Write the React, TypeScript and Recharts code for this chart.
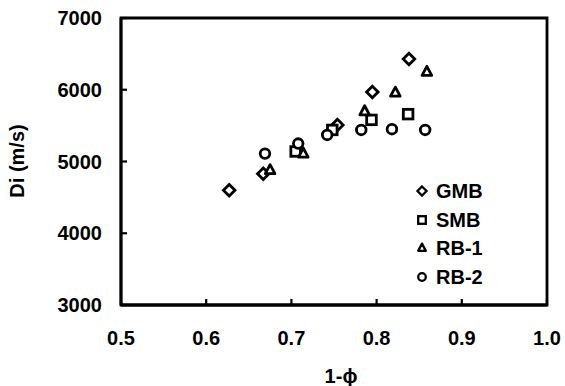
import React from "react";
import {
  ScatterChart,
  Scatter,
  XAxis,
  YAxis,
  ReferenceArea,
  Label,
} from "recharts";

type Pt = { x: number; y: number };

const gmb: Pt[] = [
  { x: 0.627, y: 4600 },
  { x: 0.667, y: 4830 },
  { x: 0.754, y: 5510 },
  { x: 0.795, y: 5970 },
  { x: 0.838, y: 6430 },
];

const smb: Pt[] = [
  { x: 0.705, y: 5140 },
  { x: 0.748, y: 5440 },
  { x: 0.794, y: 5580 },
  { x: 0.837, y: 5660 },
];

const rb1: Pt[] = [
  { x: 0.675, y: 4880 },
  { x: 0.714, y: 5110 },
  { x: 0.786, y: 5700 },
  { x: 0.822, y: 5960 },
  { x: 0.859, y: 6250 },
];

const rb2: Pt[] = [
  { x: 0.669, y: 5110 },
  { x: 0.708, y: 5250 },
  { x: 0.742, y: 5370 },
  { x: 0.782, y: 5440 },
  { x: 0.818, y: 5450 },
  { x: 0.857, y: 5440 },
];

const xTicks = [0.5, 0.6, 0.7, 0.8, 0.9, 1.0];
const yTicks = [3000, 4000, 5000, 6000, 7000];

const FONT = "'Liberation Sans', Arial, sans-serif";
const INK = "#000";

type Kind = "diamond" | "square" | "triangle" | "circle";

function marker(kind: Kind, cx: number, cy: number, r: number, sw: number) {
  const common = { fill: "#fff", stroke: INK, strokeWidth: sw };
  if (kind === "circle") return <circle cx={cx} cy={cy} r={r} {...common} />;
  if (kind === "square")
    return <rect x={cx - r} y={cy - r} width={2 * r} height={2 * r} {...common} />;
  if (kind === "diamond")
    return (
      <path
        d={`M${cx},${cy - r * 1.2}L${cx + r * 1.2},${cy}L${cx},${cy + r * 1.2}L${cx - r * 1.2},${cy}Z`}
        {...common}
      />
    );
  return (
    <path
      d={`M${cx},${cy - r * 1.15}L${cx + r},${cy + r * 0.75}L${cx - r},${cy + r * 0.75}Z`}
      {...common}
      strokeLinejoin="round"
    />
  );
}

const shapeOf = (kind: Kind) => (props: any) => {
  const { cx, cy } = props;
  if (cx == null || cy == null) return <g />;
  return marker(kind, cx, cy, 4.8, 2.8);
};

const series: { name: string; kind: Kind; data: Pt[] }[] = [
  { name: "GMB", kind: "diamond", data: gmb },
  { name: "SMB", kind: "square", data: smb },
  { name: "RB-1", kind: "triangle", data: rb1 },
  { name: "RB-2", kind: "circle", data: rb2 },
];

const textStyle = { fontFamily: FONT, fontSize: 20, fontWeight: 700, fill: INK };

export default function App() {
  return (
    <div style={{ position: "absolute", left: 0, top: 0, background: "#fff" }}>
      <ScatterChart
        width={565}
        height={386}
        margin={{ top: 18, right: 18, left: 0, bottom: 0 }}
      >
        <XAxis
          type="number"
          dataKey="x"
          domain={[0.5, 1.0]}
          ticks={xTicks}
          tickFormatter={(v: number) => v.toFixed(1)}
          height={81}
          tickSize={-6}
          tickMargin={32}
          tick={textStyle}
          axisLine={{ stroke: INK, strokeWidth: 2.8 }}
          tickLine={{ stroke: INK, strokeWidth: 2.2 }}
          allowDataOverflow
        >
          <Label
            content={() => (
              <text x={341} y={383} textAnchor="middle" style={textStyle}>
                1-ϕ
              </text>
            )}
          />
        </XAxis>
        <YAxis
          type="number"
          dataKey="y"
          domain={[3000, 7000]}
          ticks={yTicks}
          width={121}
          tickSize={-6}
          tickMargin={25}
          tick={textStyle}
          axisLine={{ stroke: INK, strokeWidth: 2.8 }}
          tickLine={{ stroke: INK, strokeWidth: 2.2 }}
          allowDataOverflow
        >
          <Label
            content={() => (
              <text
                x={24}
                y={161}
                transform="rotate(-90 24 161)"
                textAnchor="middle"
                style={textStyle}
              >
                Di (m/s)
              </text>
            )}
          />
        </YAxis>
        <ReferenceArea
          x1={0.5}
          x2={1.0}
          y1={3000}
          y2={7000}
          fill="none"
          stroke={INK}
          strokeWidth={2.8}
          ifOverflow="visible"
        />
        {series.map((s) => (
          <Scatter
            key={s.name}
            name={s.name}
            data={s.data}
            shape={shapeOf(s.kind)}
            isAnimationActive={false}
          />
        ))}
      </ScatterChart>
      <div
        style={{
          position: "absolute",
          left: 414,
          top: 177,
          fontFamily: FONT,
          fontSize: 20,
          fontWeight: 700,
          lineHeight: "28.5px",
        }}
      >
        {series.map((s) => (
          <div key={s.name} style={{ display: "flex", alignItems: "center" }}>
            <svg width={16} height={16} style={{ marginRight: 6 }}>
              {marker(s.kind, 8, 8, 3.8, 2.3)}
            </svg>
            <span>{s.name}</span>
          </div>
        ))}
      </div>
    </div>
  );
}
